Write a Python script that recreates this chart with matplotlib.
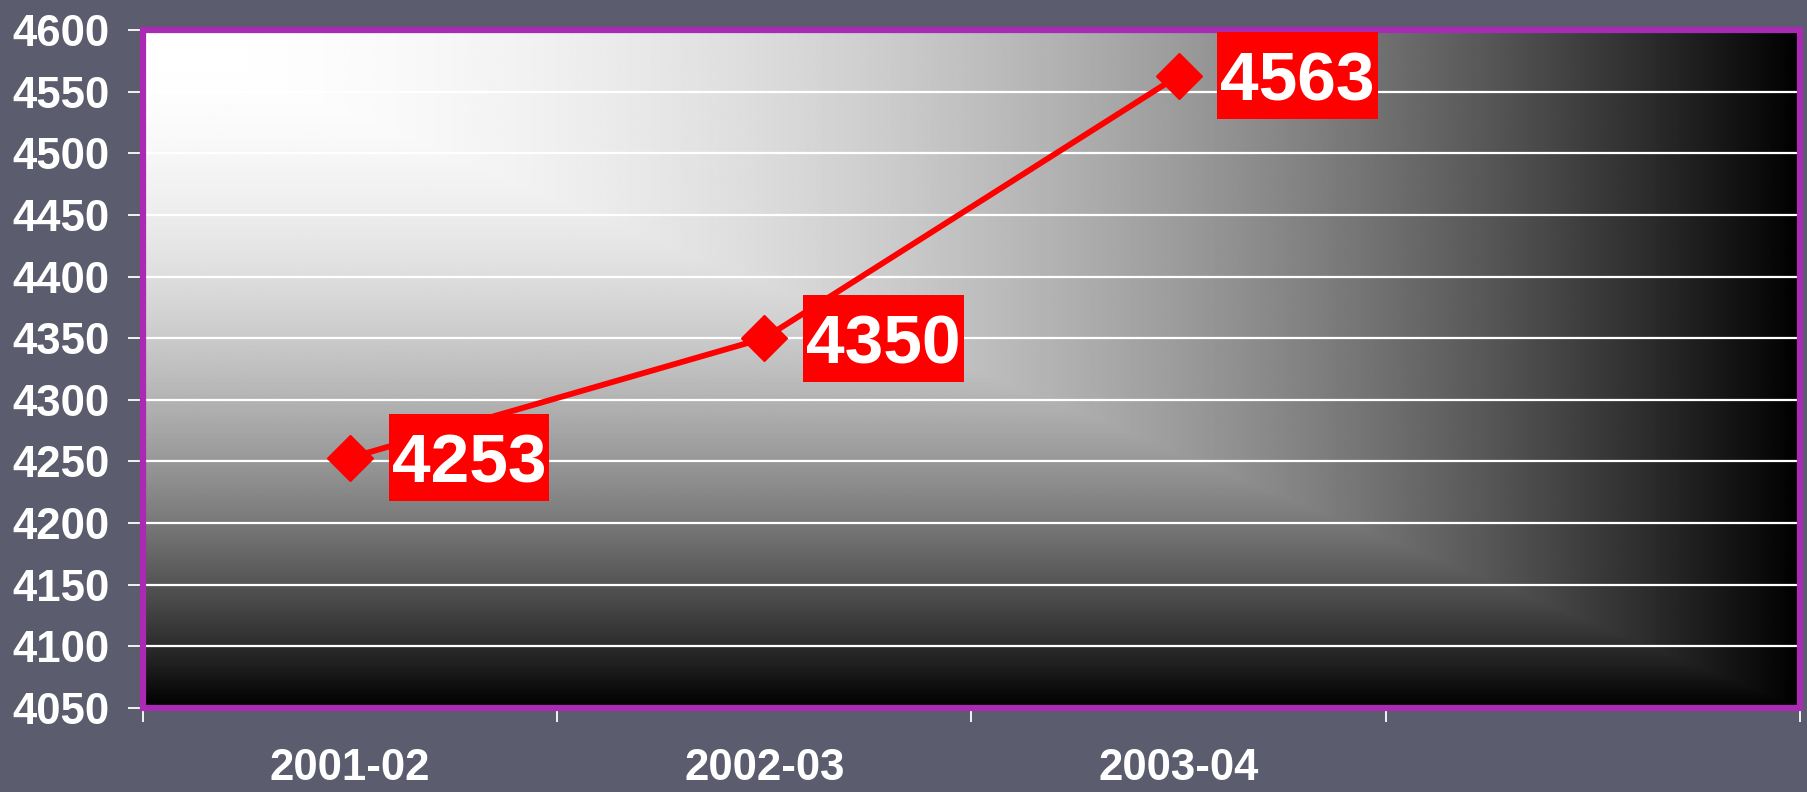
import numpy as np
import matplotlib
matplotlib.use('Agg')  # no display
import matplotlib.pyplot as plt
from matplotlib.patches import Rectangle
from matplotlib.transforms import IdentityTransform

# data
categories = ['2001-02', '2002-03', '2003-04', '']
values = [4253, 4350, 4563]
y_ticks = list(range(4050, 4601, 50))

BG = '#5b5c6d'
FRAME = '#a92bb4'
RED = '#ff0000'
LABEL_SIZE = 50

plt.rcParams['font.family'] = ['Liberation Sans', 'DejaVu Sans']
plt.rcParams['font.weight'] = 'bold'

fig = plt.figure(figsize=(18.08, 7.92), dpi=100, facecolor=BG)
ax = fig.add_axes([143 / 1808, 84 / 792, 1657 / 1808, 678 / 792])

x0, x1 = -0.5, len(categories) - 0.5
y0, y1 = y_ticks[0], y_ticks[-1]

# corner gradient: white in the top-left, fading to black to the right and bottom
u = np.linspace(0, 1, 900)
v = np.linspace(0, 1, 400)
U, V = np.meshgrid(u, v)
shade = 1 - np.maximum(U, V) ** 2
ax.imshow(shade, cmap='gray', vmin=0, vmax=1, extent=(x0, x1, y0, y1),
          aspect='auto', origin='upper', interpolation='bilinear', zorder=0)

ax.set_xlim(x0, x1)
ax.set_ylim(y0, y1)

# grid and ticks
ax.set_axisbelow(True)
ax.yaxis.grid(True, color='white', lw=1.6)
ax.set_yticks(y_ticks)
ax.tick_params(axis='y', colors='white', length=11, width=1.3, pad=13, labelsize=31.5)

ax.set_xticks(np.arange(x0, x1 + 0.01, 1))
ax.set_xticks(range(len(categories)), categories, minor=True)
ax.tick_params(axis='x', which='major', colors='white', length=10, width=1.3, labelbottom=False)
ax.tick_params(axis='x', which='minor', length=0, pad=29, labelsize=31.5, labelcolor='white')

for side in ['top', 'right']:
    ax.spines[side].set_visible(False)
for side in ['left', 'bottom']:
    ax.spines[side].set_color('white')
    ax.spines[side].set_linewidth(1.5)

ax.add_patch(Rectangle((0, 0), 1, 1, transform=ax.transAxes, fill=False,
                       ec=FRAME, lw=4.5, clip_on=False, zorder=4))

# the series
xs = list(range(len(values)))
ax.plot(xs, values, color=RED, lw=4.2, marker='D', ms=23, clip_on=False, zorder=3)

labels = []
for x, val in zip(xs, values):
    t = ax.annotate(str(val), (x, val), xytext=(30, 0), textcoords='offset points',
                    ha='left', va='center_baseline', fontsize=LABEL_SIZE,
                    color='white', fontweight='bold', zorder=6)
    labels.append((t, x, val))

# red boxes behind the value labels, sized from the rendered text
fig.canvas.draw()
renderer = fig.canvas.get_renderer()
box_h = 1.25 * LABEL_SIZE * fig.dpi / 72
for t, x, val in labels:
    bb = t.get_window_extent(renderer)
    yc = ax.transData.transform((x, val))[1]
    ax.add_patch(Rectangle((bb.x0 - 3, yc - box_h / 2), bb.width + 6, box_h,
                           transform=IdentityTransform(), fc=RED, ec='none',
                           clip_on=False, zorder=5))

fig.savefig('out.png', dpi=100, facecolor=BG)
